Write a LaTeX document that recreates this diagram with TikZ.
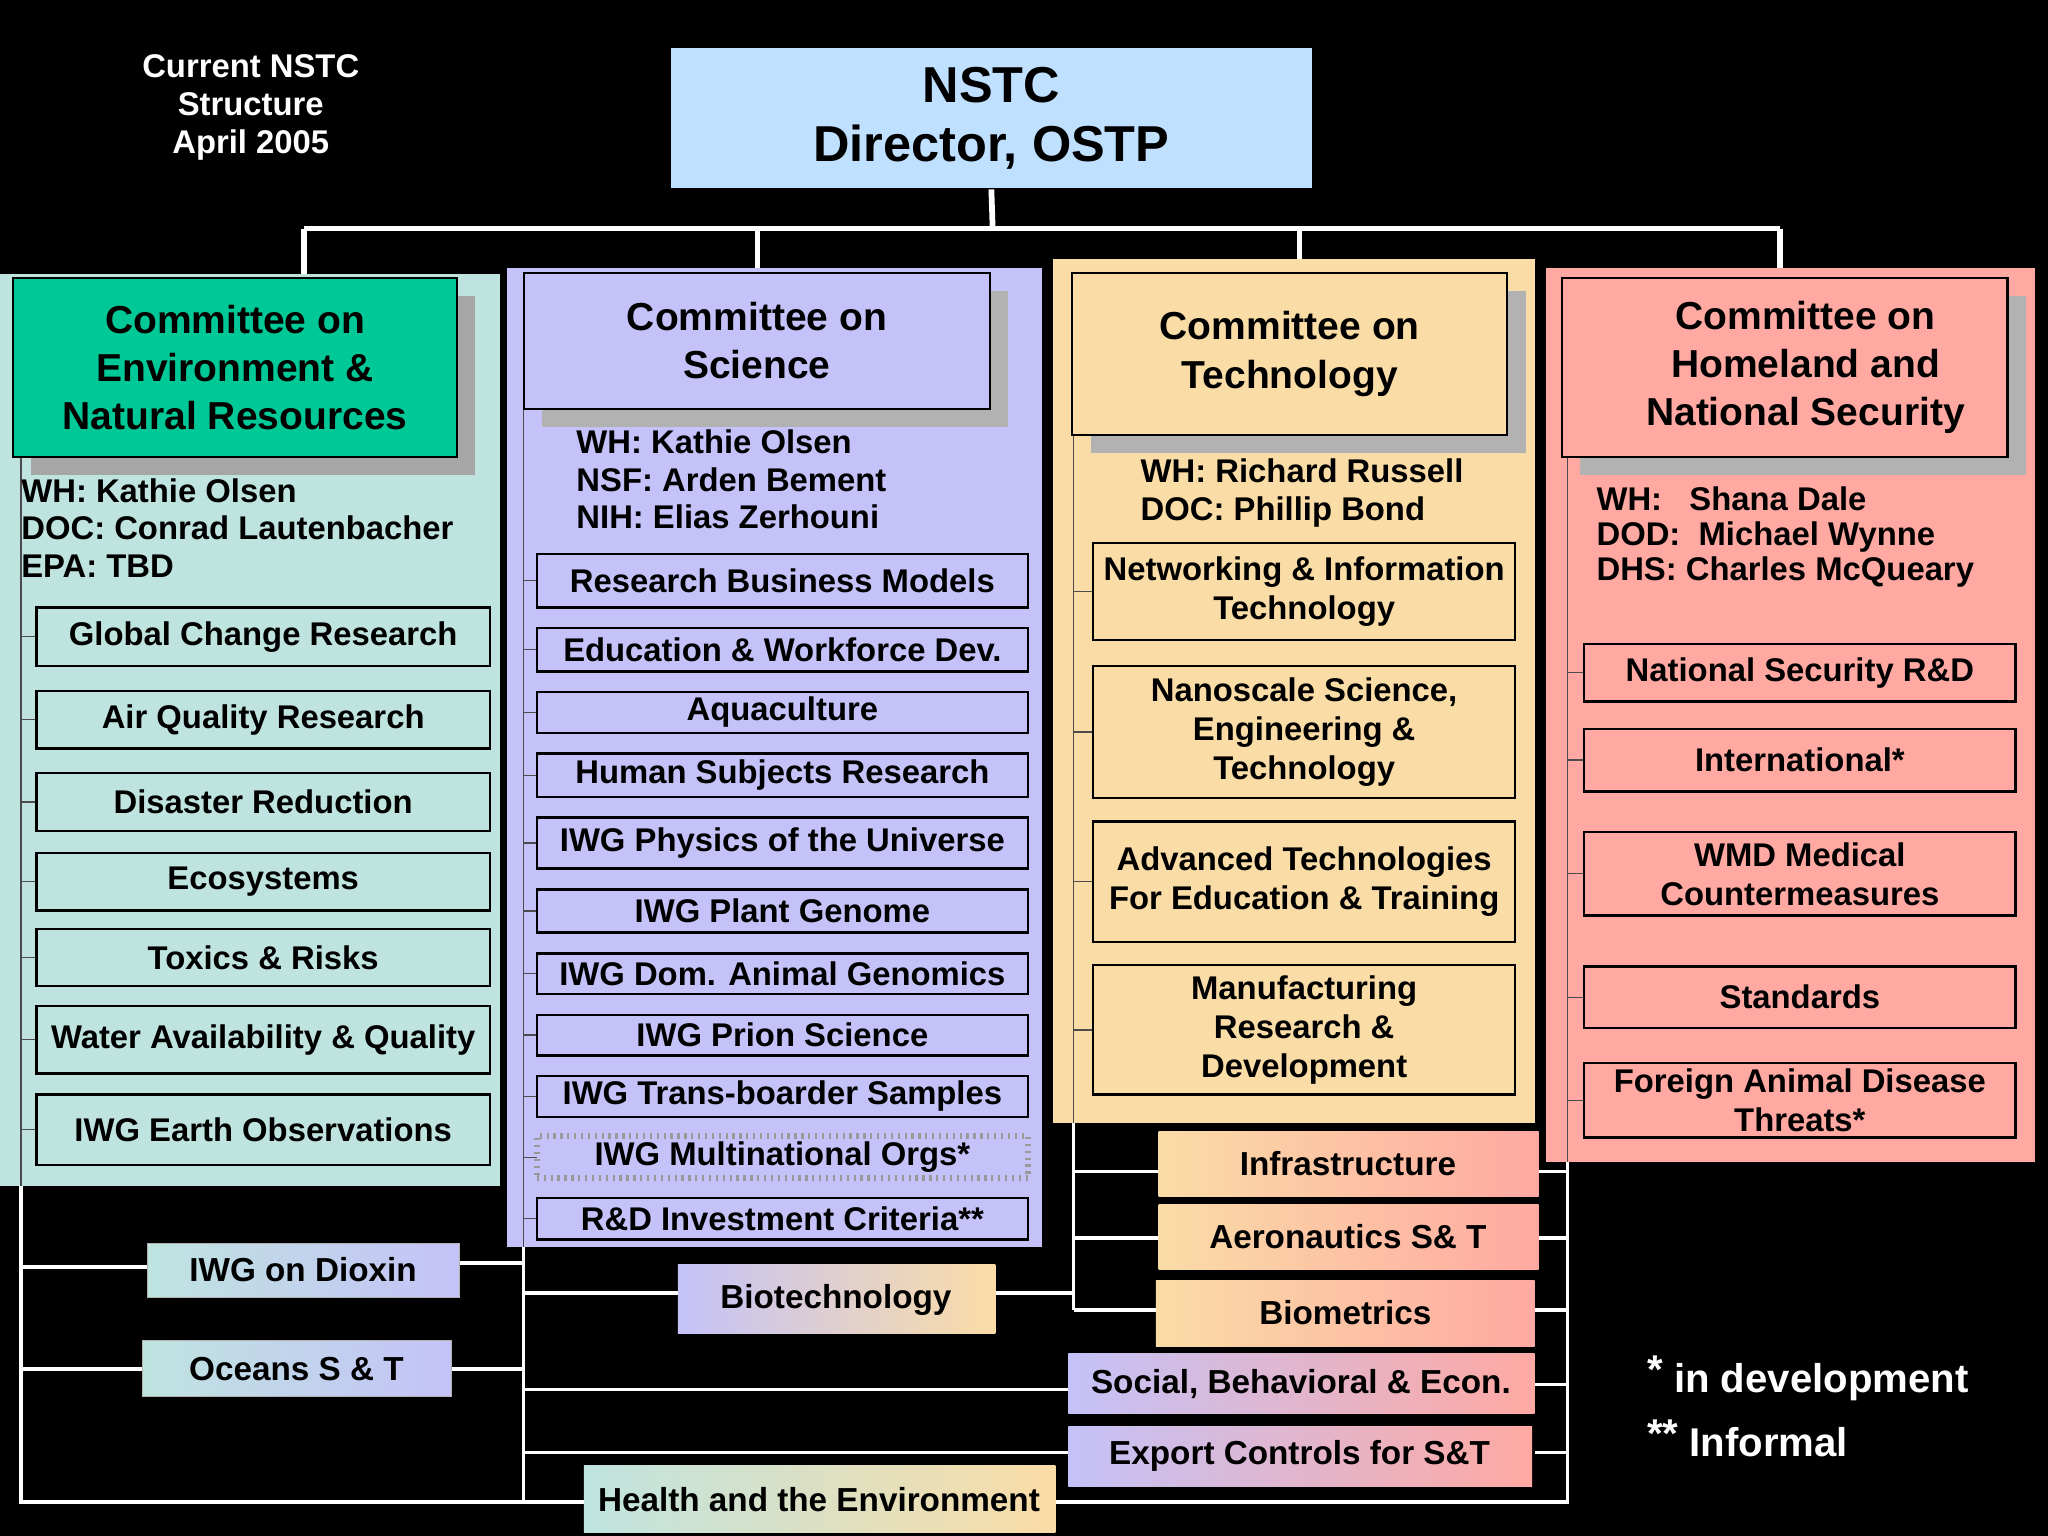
\documentclass[tikz,border=0pt]{standalone}
\usepackage{fontspec}
\setmainfont{Liberation Sans}
\begin{document}
\begin{tikzpicture}[x=0.02cm,y=-0.02cm,font=\bfseries,
  sub/.style={draw=black,line width=1pt,inner sep=0pt,outer sep=0pt,align=center,font=\fontsize{14.3}{17}\selectfont\bfseries},
  gsub/.style={draw=none,inner sep=0pt,align=center,font=\fontsize{14.5}{17}\selectfont\bfseries},
  head/.style={draw=black,line width=1pt,inner sep=0pt,outer sep=0pt,align=center,font=\fontsize{17}{21}\selectfont\bfseries},
  mem/.style={anchor=north west,align=left,inner sep=0pt,font=\fontsize{14.3}{16.3}\selectfont\bfseries},
  wl/.style={draw=white,line width=1.5pt},
  tk/.style={draw=black!70,line width=0.6pt}]
\definecolor{teal}{HTML}{BFE4E0}\definecolor{envh}{HTML}{00C896}
\definecolor{lav}{HTML}{C4C2F8}\definecolor{org}{HTML}{FADCA6}
\definecolor{pnk}{HTML}{FFA9A2}\definecolor{nblue}{HTML}{BFE0FF}
\newcommand\bx[7]{\node[#7, minimum width={(#4-#2)*0.02cm}, minimum height={(#5-#3)*0.02cm}] (#1) at ({(#2+#4)/2},{(#3+#5)/2}) {#6};}
\fill[black] (0,0) rectangle (1568,1176);
\node[text=white,align=center,font=\fontsize{14.3}{16.5}\selectfont\bfseries] (ttl) at (192,82) {Current NSTC\\Structure\\April 2005};
\bx{nstc}{513}{36}{1005}{145}{NSTC\\Director, OSTP}{sub,fill=nblue,font=\fontsize{22}{26}\selectfont\bfseries}
\draw[wl,line width=2.5pt] (nstc.south) -- (760,175);
\draw[wl,line width=2.5pt] (233,175) -- (1363,175);
\foreach \x in {233,580,995,1363} \draw[wl,line width=2.5pt] (\x,175) -- (\x,212);
\draw[wl] (16,350) -- (16,1150) -- (447,1150);
\draw[wl] (401,313) -- (401,1150);
\draw[wl] (822,333) -- (822,1003);
\draw[wl] (1200,350) -- (1200,1150) -- (808,1150);
\draw[wl] (16,970) -- (113,970); \draw[wl] (352,967) -- (401,967);
\draw[wl] (16,1048) -- (109,1048); \draw[wl] (346,1048) -- (401,1048);
\draw[wl] (401,990) -- (519,990); \draw[wl] (762,990) -- (822,990);
\draw[wl] (401,1064) -- (818,1064); \draw[wl] (401,1112) -- (818,1112);
\foreach \y in {897,948,1003} \draw[wl] (822,\y) -- (887,\y);
\foreach \y in {897,948,1003,1060,1112} \draw[wl] (1175,\y) -- (1200,\y);
\fill[teal] (0,210) rectangle (383,908);
\fill[lav] (388,205) rectangle (798,955);
\fill[org] (806,198) rectangle (1175,860);
\fill[pnk] (1184,205) rectangle (1558,890);
\draw[tk] (16,350) -- (16,908); \draw[tk] (401,313) -- (401,955);
\draw[tk] (822,333) -- (822,860); \draw[tk] (1200,350) -- (1200,890);
\fill[black!35] (24,227) rectangle (364,364);
\bx{env}{10}{213}{350}{350}{Committee on\\Environment \&\\Natural Resources}{head,fill=envh}
\fill[black!30] (415,223) rectangle (772,327);
\bx{sci}{401}{209}{758}{313}{Committee on\\Science}{head,fill=lav}
\fill[black!30] (835,223) rectangle (1168,347);
\bx{tech}{821}{209}{1154}{333}{Committee on\\Technology}{head,fill=org}
\fill[black!30] (1210,227) rectangle (1551,364);
\bx{home}{1196}{213}{1537}{350}{\hspace*{18pt}Committee on\\\hspace*{18pt}Homeland and\\\hspace*{18pt}National Security}{head,fill=pnk}
\node[mem] (m1) at (16,366) {WH: Kathie Olsen\\DOC: Conrad Lautenbacher\\EPA: TBD};
\node[mem] (m2) at (441,329) {WH: Kathie Olsen\\NSF: Arden Bement\\NIH: Elias Zerhouni};
\node[mem] (m3) at (873,351) {WH: Richard Russell\\DOC: Phillip Bond};
\node[mem,font=\fontsize{14.3}{15.3}\selectfont\bfseries] (m4) at (1222,372) {WH:\ \ \ Shana Dale\\DOD:\ \ Michael Wynne\\DHS: Charles McQueary};
\foreach \n/\a/\b/\t in {e1/465/510/Global Change Research,e2/529/573/Air Quality Research,e3/592/636/Disaster Reduction,e4/653/697/Ecosystems,e5/711/755/Toxics \& Risks,e6/770/822/Water Availability \& Quality,e7/838/892/IWG Earth Observations}{
 \draw[tk] (16,{(\a+\b)/2}) -- (28,{(\a+\b)/2});
 \bx{\n}{28}{\a}{375}{\b}{\t}{sub}}
\foreach \n/\a/\b/\t in {s1/424/465/Research Business Models,s2/481/514/Education \& Workforce Dev.,s3/530/561/Aquaculture,s4/577/610/Human Subjects Research,s5/626/665/IWG Physics of the Universe,s6/681/714/IWG Plant Genome,s7/730/761/IWG Dom. Animal Genomics,s8/777/808/IWG Prion Science,s9/824/855/IWG Trans-boarder Samples,s11/917/949/R\&D Investment Criteria**}{
 \draw[tk] (401,{(\a+\b)/2}) -- (411,{(\a+\b)/2});
 \bx{\n}{411}{\a}{787}{\b}{\t}{sub}}
\draw[tk] (401,886) -- (411,886);
\bx{s10}{411}{870}{787}{902}{IWG Multinational Orgs*}{sub,draw=black!40,dotted,line width=2.5pt}
\foreach \n/\a/\b/\t in {t1/416/490/{Networking \& Information\\Technology},t2/510/611/{Nanoscale Science,\\Engineering \&\\Technology},t3/629/721/{Advanced Technologies\\For Education \& Training},t4/739/838/{Manufacturing\\Research \&\\Development}}{
 \draw[tk] (822,{(\a+\b)/2}) -- (837,{(\a+\b)/2});
 \bx{\n}{837}{\a}{1160}{\b}{\t}{sub}}
\foreach \n/\a/\b/\t in {h1/493/537/National Security R\&D,h2/558/606/International*,h3/637/701/{WMD Medical\\Countermeasures},h4/740/787/Standards,h5/814/871/{Foreign Animal Disease\\Threats*}}{
 \draw[tk] (1200,{(\a+\b)/2}) -- (1213,{(\a+\b)/2});
 \bx{\n}{1213}{\a}{1543}{\b}{\t}{sub}}
\shade[left color=teal,right color=lav] (113,952) rectangle (352,993); \draw[white!70!black] (113,952) rectangle (352,993);
\node[gsub] (dio) at (232,972) {IWG on Dioxin};
\shade[left color=teal,right color=lav] (109,1026) rectangle (346,1069); \draw[white!70!black] (109,1026) rectangle (346,1069);
\node[gsub] (oce) at (227,1048) {Oceans S \& T};
\shade[left color=lav,right color=org] (519,968) rectangle (762,1021);
\node[gsub] (bio) at (640,995) {Biotechnology};
\shade[left color=org,right color=pnk] (887,866) rectangle (1178,916);
\node[gsub] (inf) at (1032,891) {Infrastructure};
\shade[left color=org,right color=pnk] (887,922) rectangle (1178,972);
\node[gsub] (aer) at (1032,947) {Aeronautics S\& T};
\shade[left color=org,right color=pnk] (885,980) rectangle (1175,1031);
\node[gsub] (bme) at (1030,1005) {Biometrics};
\shade[left color=lav,middle color=org,right color=pnk] (818,1036) rectangle (1175,1082);
\node[gsub] (soc) at (996,1060) {Social, Behavioral \& Econ.};
\shade[left color=lav,middle color=org,right color=pnk] (818,1092) rectangle (1173,1138);
\node[gsub] (exp) at (995,1115) {Export Controls for S\&T};
\shade[left color=teal,middle color=lav,right color=org] (447,1122) rectangle (808,1173);
\node[gsub] (hea) at (627,1148) {Health and the Environment};
\node[anchor=west,text=white,font=\fontsize{17.5}{20}\selectfont\bfseries] (f1) at (1255,1055) {\raisebox{4pt}{*} in development};
\node[anchor=west,text=white,font=\fontsize{17.5}{20}\selectfont\bfseries] (f2) at (1255,1101) {\raisebox{4pt}{**} Informal};
\end{tikzpicture}
\end{document}
